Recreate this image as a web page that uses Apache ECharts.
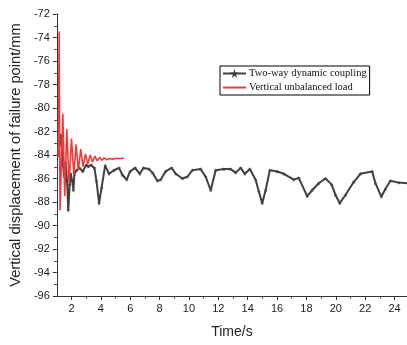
<!DOCTYPE html>
<html>
<head>
<meta charset="utf-8">
<script src="https://cdn.jsdelivr.net/npm/echarts@6/dist/echarts.min.js"></script>
<style>html,body{margin:0;padding:0;background:#fff}#c{width:407px;height:345px}</style>
</head>
<body>
<div id="c"></div>
<script>
// ---- data ----
const coupledTime = [1.10,1.20,1.30,1.40,1.50,1.60,1.70,1.78,1.88,1.95,2.05,2.13,2.20,2.35,2.54,2.77,3.00,3.15,3.33,3.56,3.70,3.88,4.05,4.29,4.56,4.90,5.24,5.47,5.76,5.99,6.33,6.65,6.90,7.28,7.51,7.85,8.07,8.41,8.82,9.10,9.55,9.89,10.23,10.80,11.14,11.48,11.82,12.38,12.84,13.18,13.52,13.81,14.15,14.54,14.76,14.99,15.22,15.51,16.01,16.46,17.14,17.48,18.05,18.39,18.84,19.30,19.71,19.98,20.27,20.66,21.22,21.68,22.48,22.70,23.10,23.38,23.72,24.29,24.86];
const coupledValue = [-84.0,-83.0,-82.3,-84.5,-85.8,-84.6,-86.2,-88.7,-86.5,-85.6,-86.2,-87.0,-85.6,-85.3,-85.1,-85.4,-84.85,-85.0,-84.85,-85.1,-86.2,-88.1,-86.8,-84.9,-85.6,-85.3,-85.1,-85.7,-86.1,-85.4,-85.1,-85.6,-85.1,-85.2,-85.5,-86.2,-86.1,-85.4,-85.1,-85.6,-86.0,-85.85,-85.3,-85.2,-85.85,-87.0,-85.3,-85.2,-85.2,-85.5,-85.1,-85.6,-85.2,-86.1,-87.1,-88.1,-87.0,-85.3,-85.4,-85.6,-86.1,-85.95,-87.5,-87.0,-86.4,-86.0,-86.5,-87.4,-88.1,-87.4,-86.3,-85.6,-85.4,-86.4,-87.55,-86.9,-86.2,-86.35,-86.4];
const loadTime = [1.10,1.16,1.22,1.41,1.54,1.68,1.84,2.00,2.16,2.31,2.47,2.63,2.79,2.95,3.11,3.27,3.43,3.59,3.75,3.91,4.07,4.23,4.40,4.60,4.80,5.00,5.20,5.40,5.58];
const loadValue = [-84.2,-73.5,-88.7,-80.5,-87.5,-81.8,-86.4,-82.6,-85.7,-83.1,-85.3,-83.5,-85.0,-83.9,-84.8,-84.0,-84.6,-84.1,-84.5,-84.2,-84.45,-84.25,-84.4,-84.3,-84.35,-84.3,-84.3,-84.3,-84.28];
const xMajorTicks = [2,4,6,8,10,12,14,16,18,20,22,24];
const xMinorTicks = [3,5,7,9,11,13,15,17,19,21,23];
const seriesNames = ['Two-way dynamic coupling','Vertical unbalanced load'];

const zip = (a,b) => a.map((t,i)=>[t,b[i]]);
const star = 'path://M50,0 L61,35 L98,35 L68,57 L79,91 L50,70 L21,91 L32,57 L2,35 L39,35 Z';
const X_MIN = 1, X_MAX = 24.85;
const axisFont = {fontFamily:'Liberation Sans, Arial, sans-serif', fontSize:11, color:'#222'};

const chart = echarts.init(document.getElementById('c'), null, {renderer:'canvas'});
chart.setOption({
  animation:false,
  backgroundColor:'#fff',
  grid:{left:56, top:14, right:0, bottom:49, containLabel:false},
  legend:{
    left:220, top:66, orient:'vertical',
    itemWidth:23, itemHeight:11, itemGap:3,
    padding:[2,3,2,2],
    borderColor:'#000', borderWidth:1,
    textStyle:{fontFamily:'Liberation Serif, Times New Roman, serif', fontSize:10.5, color:'#111', padding:[0,0,0,-2]},
    data:[
      {name:seriesNames[0]},
      {name:seriesNames[1], itemStyle:{color:'rgba(0,0,0,0)', borderWidth:0, borderColor:'rgba(0,0,0,0)'}}
    ]
  },
  xAxis:[{
    type:'value', min:X_MIN, max:X_MAX, position:'bottom',
    name:'Time/s', nameLocation:'middle', nameGap:29,
    nameTextStyle:{fontFamily:'Liberation Sans, Arial, sans-serif', fontSize:14, color:'#222'},
    axisLine:{show:true, lineStyle:{color:'#333', width:1}},
    axisTick:{show:true, inside:false, length:4, customValues:xMajorTicks, lineStyle:{color:'#333'}},
    axisLabel:Object.assign({margin:7, customValues:xMajorTicks}, axisFont),
    splitLine:{show:false}
  },{
    type:'value', min:X_MIN, max:X_MAX, position:'bottom',
    axisLine:{show:false},
    axisTick:{show:true, inside:false, length:2.5, customValues:xMinorTicks, lineStyle:{color:'#333'}},
    axisLabel:{show:false},
    splitLine:{show:false}
  }],
  yAxis:{
    type:'value', min:-96, max:-72, interval:2,
    name:'Vertical displacement of failure point/mm', nameLocation:'middle', nameGap:33,
    nameTextStyle:{fontFamily:'Liberation Sans, Arial, sans-serif', fontSize:14.7, color:'#222'},
    axisLine:{show:true, lineStyle:{color:'#333', width:1}},
    axisTick:{show:true, inside:false, length:4, lineStyle:{color:'#333'}},
    minorTick:{show:true, splitNumber:2, length:2.5, lineStyle:{color:'#333'}},
    axisLabel:Object.assign({margin:7}, axisFont),
    splitLine:{show:false}
  },
  series:[{
    name:seriesNames[0], type:'line', xAxisIndex:0,
    data:zip(coupledTime, coupledValue),
    symbol:star, symbolSize:4, showSymbol:true,
    lineStyle:{color:'#404040', width:2},
    itemStyle:{color:'#404040'},
    z:2
  },{
    name:seriesNames[1], type:'line', xAxisIndex:0,
    data:zip(loadTime, loadValue),
    symbol:'none',
    lineStyle:{color:'#f03a3a', width:1.6},
    itemStyle:{color:'#f03a3a'},
    z:3
  }]
});
</script>
</body>
</html>
